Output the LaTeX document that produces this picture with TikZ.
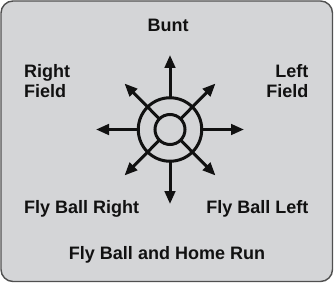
\documentclass[tikz,border=0pt]{standalone}
\usepackage{fontspec}
\setmainfont{Liberation Sans}
\usetikzlibrary{arrows.meta}
\definecolor{panel}{HTML}{D4D5D7}
\definecolor{rim}{HTML}{505050}
\definecolor{ink}{HTML}{111111}
\tikzset{
  lbl/.style={font=\fontsize{18}{20.5}\selectfont\bfseries, text=ink, inner sep=0pt},
  ray/.style={draw=ink, line width=3pt, -{Triangle[length=13pt,width=10.5pt]}},
  ring/.style={draw=ink, line width=3pt},
}
\begin{document}
\begin{tikzpicture}[x=1pt,y=-1pt]
\useasboundingbox (0,0) rectangle (334,283);
\draw[rim, fill=panel, line width=1.4pt, rounded corners=12pt] (1,1) rectangle (332.5,281.5);
\coordinate (c) at (170,129.5);
\node[ring, circle, minimum size=63.5pt, inner sep=0pt, outer sep=0pt] (outer) at (c) {};
\node[ring, circle, minimum size=30pt, inner sep=0pt, outer sep=0pt] (inner) at (c) {};
\coordinate (tn) at (170,55);
\coordinate (ts) at (170,204);
\coordinate (tw) at (96,129.5);
\coordinate (te) at (244,129.5);
\coordinate (tne) at (215.5,83.5);
\coordinate (tnw) at (124.5,83.5);
\coordinate (tse) at (215.5,175.5);
\coordinate (tsw) at (124.5,175.5);
\draw[ray] (outer.north) -- (tn);
\draw[ray] (outer.south) -- (ts);
\draw[ray] (outer.west) -- (tw);
\draw[ray] (outer.east) -- (te);
\draw[ray] (inner.north east) -- (tne);
\draw[ray] (inner.north west) -- (tnw);
\draw[ray] (inner.south east) -- (tse);
\draw[ray] (inner.south west) -- (tsw);
\node[lbl, anchor=base] (bunt) at (168,32) {Bunt};
\node[lbl, anchor=north west, align=left] (rf) at (24,64) {Right\\Field};
\node[lbl, anchor=north east, align=right] (lf) at (308.5,64) {Left\\Field};
\node[lbl, anchor=base west] (fbr) at (24,213) {Fly Ball Right};
\node[lbl, anchor=base east] (fbl) at (308.5,213) {Fly Ball Left};
\node[lbl, anchor=base] (hr) at (167,259) {Fly Ball and Home Run};
\end{tikzpicture}
\end{document}
